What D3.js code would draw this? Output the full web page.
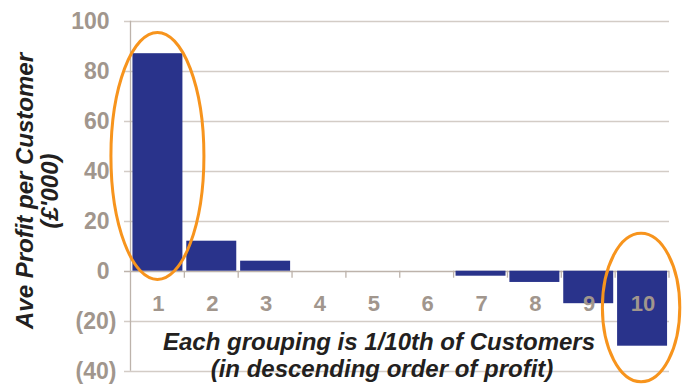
<!DOCTYPE html>
<html>
<head>
<meta charset="utf-8">
<script src="https://cdn.jsdelivr.net/npm/d3@7/dist/d3.min.js"></script>
<style>
  html, body { margin: 0; padding: 0; background: #fff; }
  svg { display: block; }
</style>
</head>
<body>
<svg id="chart" width="683" height="385"></svg>
<script>
// Customer deciles, most profitable first
const categories = ["1", "2", "3", "4", "5", "6", "7", "8", "9", "10"];
// Average profit per customer in each decile (£'000)
const profit = [87, 12, 4, 0, 0, 0, -2, -4.5, -13, -30];
// Value-axis ticks
const yTicks = [-40, -20, 0, 20, 40, 60, 80, 100];
// Deciles circled for emphasis, with the value span each ring covers
const highlightCats = ["1", "10"];
const highlightSpans = [[-3.5, 95.3], [-44.4, 15]];

const svg = d3.select("#chart");

const plotLeft = 130.5, plotRight = 669, plotTop = 20.7, plotBottom = 370.7;

const x = d3.scaleBand()
  .domain(categories)
  .range([plotLeft, plotRight])
  .paddingInner(0.072)
  .paddingOuter(0.036);

const y = d3.scaleLinear()
  .domain([-40, 100])
  .range([plotBottom, plotTop]);

const gridColor = "#d3ccc6";
const axisColor = "#bdb3ab";
const tickTextColor = "#a1968d";

// Horizontal gridlines with short stubs left of the value axis
svg.append("g")
  .selectAll("line")
  .data(yTicks)
  .join("line")
  .attr("x1", plotLeft - 6.5)
  .attr("x2", plotRight)
  .attr("y1", d => Math.round(y(d)) + 0.5)
  .attr("y2", d => Math.round(y(d)) + 0.5)
  .attr("stroke", d => d === 0 ? axisColor : gridColor)
  .attr("stroke-width", 1.3);

// Value axis line
svg.append("line")
  .attr("x1", plotLeft).attr("x2", plotLeft)
  .attr("y1", y(100)).attr("y2", y(-40))
  .attr("stroke", axisColor)
  .attr("stroke-width", 1.3);

// Value-axis labels: negatives in brackets, positives padded for the bracket
const yAxis = d3.axisLeft(y)
  .tickValues(yTicks)
  .tickSize(0)
  .tickFormat(d => d < 0 ? `(${Math.abs(d)})` : `${d}`);

const yg = svg.append("g")
  .attr("transform", `translate(${plotLeft},0)`)
  .call(yAxis);
yg.select(".domain").remove();
yg.selectAll(".tick text")
  .attr("x", d => d < 0 ? -14 : -21)
  .attr("dy", "0.36em")
  .attr("fill", tickTextColor)
  .style("font-family", "'Liberation Sans', Arial, sans-serif")
  .style("font-weight", "bold")
  .style("font-size", "23px");

// Bars
svg.append("g")
  .selectAll("rect")
  .data(categories.map((c, i) => ({ c, v: profit[i] })))
  .join("rect")
  .attr("x", d => x(d.c))
  .attr("width", x.bandwidth())
  .attr("y", d => y(Math.max(0, d.v)))
  .attr("height", d => Math.abs(y(d.v) - y(0)))
  .attr("fill", "#29338b");

// Category tick marks hanging below the zero line
const step = x.step();
svg.append("g")
  .selectAll("line")
  .data(d3.range(1, categories.length + 1))
  .join("line")
  .attr("x1", i => plotLeft + i * step)
  .attr("x2", i => plotLeft + i * step)
  .attr("y1", y(0))
  .attr("y2", y(0) + 7)
  .attr("stroke", axisColor)
  .attr("stroke-width", 1.3);

// Category labels
svg.append("g")
  .selectAll("text")
  .data(categories)
  .join("text")
  .attr("x", d => x(d) + x.bandwidth() / 2 + 1)
  .attr("y", y(0) + 40)
  .attr("text-anchor", "middle")
  .attr("fill", tickTextColor)
  .style("font-family", "'Liberation Sans Narrow', 'Liberation Sans', Arial, sans-serif")
  .style("font-weight", "bold")
  .style("font-size", "22px")
  .text(d => d);

// Axis titles
const titleFont = "'Liberation Sans', Arial, sans-serif";
const xTitle = svg.append("text")
  .attr("text-anchor", "middle")
  .attr("fill", "#231f20")
  .style("font-family", titleFont)
  .style("font-weight", "bold")
  .style("font-style", "italic")
  .style("font-size", "24px");
xTitle.append("tspan").attr("x", 379).attr("y", 350)
  .text("Each grouping is 1/10th of Customers");
xTitle.append("tspan").attr("x", 382).attr("y", 377)
  .text("(in descending order of profit)");

const yTitle = svg.append("text")
  .attr("transform", "translate(0,191) rotate(-90)")
  .attr("text-anchor", "middle")
  .attr("fill", "#231f20")
  .style("font-family", titleFont)
  .style("font-weight", "bold")
  .style("font-style", "italic")
  .style("font-size", "24px");
yTitle.append("tspan").attr("x", 0).attr("y", 33)
  .text("Ave Profit per Customer");
yTitle.append("tspan").attr("x", 0).attr("y", 58)
  .text("(£'000)");

// Emphasis rings around the first and last deciles
const ringHalfWidths = [46.5, 38.7];
svg.append("g")
  .selectAll("ellipse")
  .data(highlightCats.map((c, i) => ({ c, span: highlightSpans[i], rx: ringHalfWidths[i] })))
  .join("ellipse")
  .attr("cx", d => x(d.c) + x.bandwidth() / 2 + (d.c === "10" ? -1 : 0))
  .attr("cy", d => (y(d.span[0]) + y(d.span[1])) / 2)
  .attr("rx", d => d.rx)
  .attr("ry", d => Math.abs(y(d.span[0]) - y(d.span[1])) / 2)
  .attr("fill", "none")
  .attr("stroke", "#f7941d")
  .attr("stroke-width", 3);
</script>
</body>
</html>
